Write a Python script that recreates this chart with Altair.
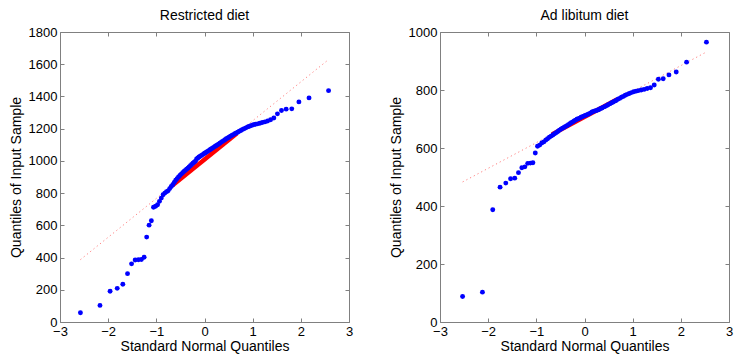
import altair as alt
import pandas as pd

# ---------------- data ----------------
x_ticks = [-3, -2, -1, 0, 1, 2, 3]
restricted_y_ticks = [0, 200, 400, 600, 800, 1000, 1200, 1400, 1600, 1800]
adlib_y_ticks = [0, 200, 400, 600, 800, 1000]

restricted_values = [
    57, 103, 191, 209, 234, 300, 361, 385, 386, 388,
    402, 527, 601, 628, 712, 718, 728, 749, 769, 790,
    800, 808, 814, 828, 841, 852, 866, 880, 890, 900,
    910, 918, 926, 934, 941, 948, 955, 963, 970, 978,
    985, 992, 998, 1012, 1018, 1024, 1029, 1034, 1039, 1044,
    1049, 1054, 1059, 1064, 1069, 1074, 1079, 1084, 1089, 1094,
    1099, 1104, 1110, 1115, 1121, 1126, 1131, 1137, 1142, 1147,
    1153, 1158, 1163, 1168, 1173, 1178, 1184, 1189, 1195, 1200,
    1205, 1211, 1215, 1220, 1224, 1227, 1230, 1234, 1238, 1242,
    1248, 1255, 1266, 1292, 1313, 1321, 1323, 1366, 1391, 1436,
]

adlib_values = [
    88, 103, 387, 465, 479, 494, 496, 515, 532, 535,
    547, 548, 549, 583, 606, 610, 617, 621, 627, 632,
    637, 641, 645, 649, 653, 657, 661, 665, 668, 671,
    674, 677, 680, 684, 687, 690, 693, 696, 699, 701,
    703, 706, 708, 710, 712, 714, 716, 718, 721, 724,
    726, 728, 729, 731, 733, 736, 738, 741, 743, 746,
    749, 752, 755, 758, 761, 764, 768, 771, 775, 778,
    782, 785, 788, 791, 794, 796, 798, 800, 802, 805,
    808, 817, 837, 839, 852, 862, 896, 965,
]

# reference lines (dotted extension over data range, solid over the IQR)
restricted_ref_q = [-2.576, 2.576]
restricted_ref_v = [387, 1629]
restricted_iqr_q = [-0.6745, 0.6745]
restricted_iqr_v = [845, 1171]
adlib_ref_q = [-2.53, 2.53]
adlib_ref_v = [483, 931]
adlib_iqr_q = [-0.6745, 0.6745]
adlib_iqr_v = [647, 767]

# ---------------- styling ----------------
W, H = 289, 290
GAP = 91
FONT = "Liberation Sans"
AX = "#808080"

label_axis = dict(grid=False, domain=False, ticks=False, labelFont=FONT,
                  labelFontSize=13, labelColor="#000000", titleFont=FONT,
                  titleFontSize=14, titleFontWeight="normal", titleColor="#000000",
                  labelFlush=False, labelOverlap=False)
tick_axis = dict(grid=False, domain=False, labels=False, ticks=True, tickSize=4,
                 tickColor=AX, tickWidth=1, title="")


def panel(title, values, ymax, yticks, ref_q, ref_v, iqr_q, iqr_v):
    xs = alt.Scale(domain=[-3, 3], nice=False, zero=False)
    ys = alt.Scale(domain=[0, ymax], nice=False, zero=False)

    ref = alt.Chart(pd.DataFrame({"q": ref_q, "v": ref_v})).mark_line(
        color="#ff8080", strokeDash=[1.2, 3], strokeWidth=1
    ).encode(
        x=alt.X("q:Q", scale=xs,
                axis=alt.Axis(orient="top", offset=-H, values=x_ticks, **tick_axis)),
        y=alt.Y("v:Q", scale=ys,
                axis=alt.Axis(orient="right", offset=-W, values=yticks, **tick_axis)),
    )

    iqr = alt.Chart(pd.DataFrame({"q": iqr_q, "v": iqr_v})).mark_line(
        color="#ff0000", strokeWidth=4.5
    ).encode(
        x=alt.X("q:Q", scale=xs,
                axis=alt.Axis(orient="bottom", offset=-H, values=x_ticks, **tick_axis)),
        y=alt.Y("v:Q", scale=ys,
                axis=alt.Axis(orient="left", offset=-W, values=yticks, **tick_axis)),
    )

    pts = alt.Chart(pd.DataFrame({"v": values})).transform_window(
        rank="row_number()", sort=[alt.SortField("v", order="ascending")]
    ).transform_joinaggregate(
        n="count()"
    ).transform_calculate(
        q="quantileNormal((datum.rank - 0.5) / datum.n)"
    ).mark_circle(size=24, color="#0000ff", opacity=1).encode(
        x=alt.X("q:Q", scale=xs,
                axis=alt.Axis(orient="bottom", values=x_ticks,
                              title="Standard Normal Quantiles",
                              labelPadding=3, titlePadding=1, **label_axis)),
        y=alt.Y("v:Q", scale=ys,
                axis=alt.Axis(orient="left", values=yticks, format="d",
                              title="Quantiles of Input Sample",
                              labelPadding=3, titlePadding=5, **label_axis)),
    )

    return alt.layer(ref, iqr, pts).resolve_axis(
        x="independent", y="independent"
    ).properties(
        width=W, height=H,
        title=alt.TitleParams(title, font=FONT, fontSize=14, fontWeight="normal",
                              color="#000000", anchor="middle", offset=3),
    )


left = panel("Restricted diet", restricted_values, 1800, restricted_y_ticks,
             restricted_ref_q, restricted_ref_v, restricted_iqr_q, restricted_iqr_v)
right = panel("Ad libitum diet", adlib_values, 1000, adlib_y_ticks,
              adlib_ref_q, adlib_ref_v, adlib_iqr_q, adlib_iqr_v)

chart = alt.hconcat(left, right, spacing=GAP, bounds="flush").properties(
    padding=0, background="white"
).configure_view(stroke=AX, strokeWidth=1)

chart.save("out.html", embed_options={"renderer": "svg", "actions": False})
